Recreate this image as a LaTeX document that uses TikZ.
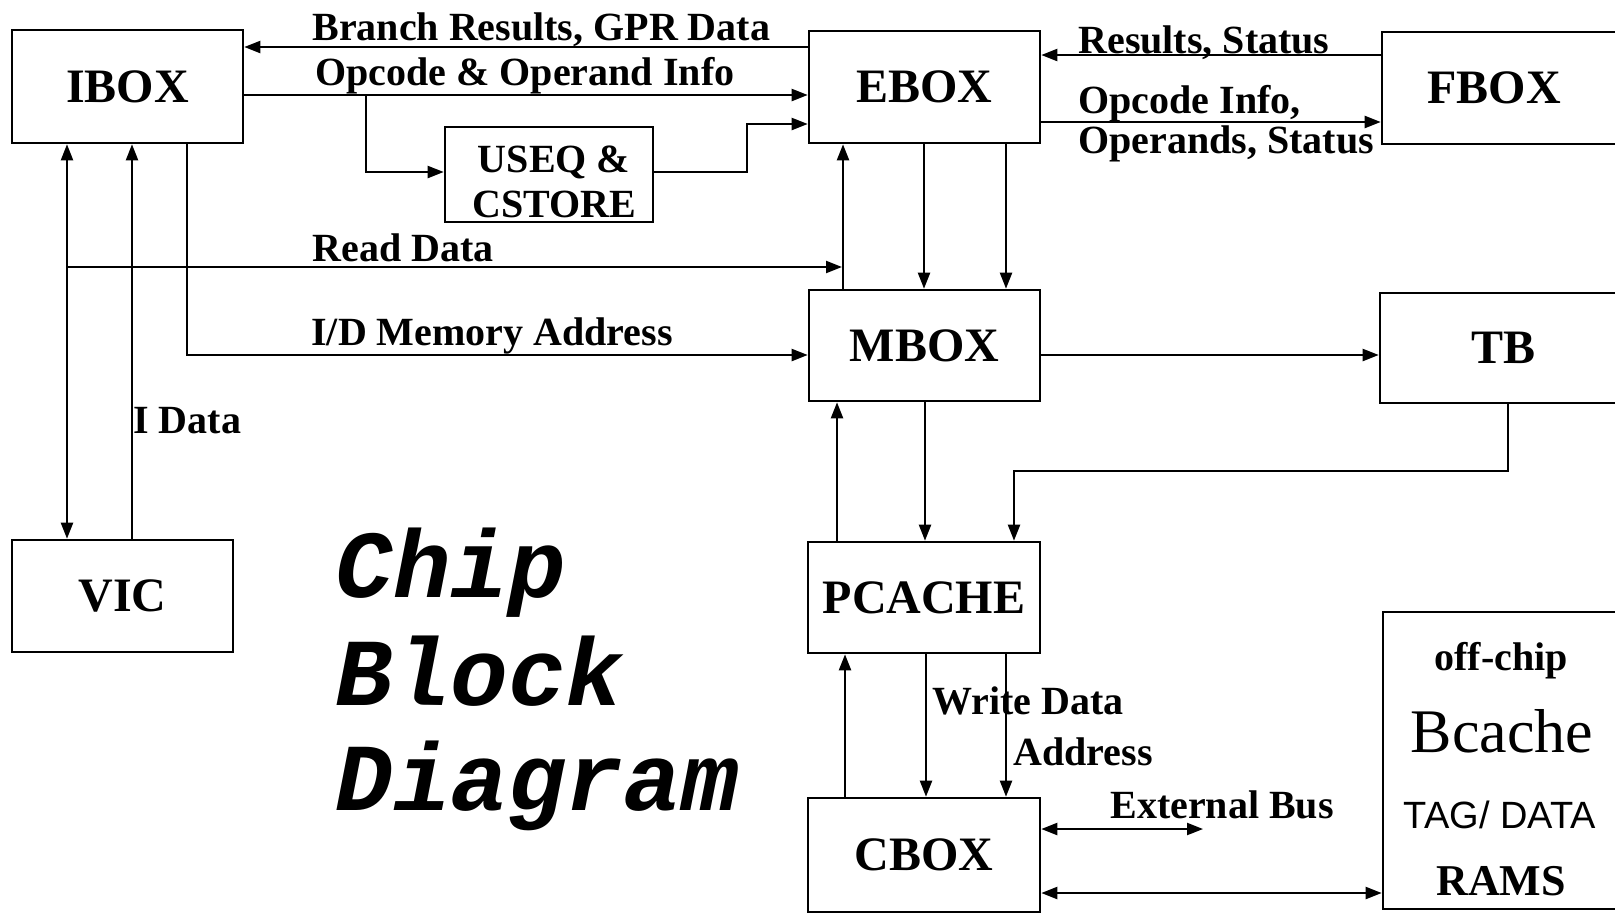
\documentclass[tikz,border=0pt]{standalone}
\usepackage{fontspec}
\setmainfont{Liberation Serif}
\setsansfont{Liberation Sans}
\setmonofont{Liberation Mono}
\usepackage{tikz}
\usetikzlibrary{arrows.meta, positioning, calc}
\tikzstyle{arrow} = [line width=1.1pt,-{Triangle[length=8pt,width=6pt]}]
\tikzstyle{darrow} = [line width=1.1pt,{Triangle[length=8pt,width=6pt]}-{Triangle[length=8pt,width=6pt]}]
\tikzstyle{box} = [draw, line width=1.3pt, rectangle, inner sep=0pt, font=\fontsize{24}{28}\selectfont\bfseries]
\tikzstyle{lbl} = [inner sep=0pt, anchor=base west, font=\fontsize{20}{23}\selectfont\bfseries]
\tikzstyle{title} = [inner sep=0pt, anchor=base west, font=\fontsize{48}{54}\selectfont\ttfamily\bfseries\itshape]

\begin{document}
\begin{tikzpicture}[x=0.5pt,y=-0.5pt]
    \clip (0,0) rectangle (1615,917);
    \fill[white] (0,0) rectangle (1615,917);

    % blocks
    \node[box, minimum width=115.5pt, minimum height=56.5pt] (ibox) at (127.5,86.5) {IBOX};
    \node[box, minimum width=115.5pt, minimum height=56pt] (ebox) at (924.5,87) {EBOX};
    \node[box, minimum width=104pt, minimum height=47.5pt] (useq) at (549,174.5) {};
    \node[align=center, inner sep=0pt, font=\fontsize{20}{22.5}\selectfont\bfseries] (useqtxt) at (554,182) {USEQ \&\\CSTORE};
    \node[box, minimum width=115.5pt, minimum height=55.5pt] (mbox) at (924.5,345.5) {MBOX};
    \node[box, minimum width=110.5pt, minimum height=56pt] (vic) at (122.5,596) {VIC};
    \node[box, minimum width=116pt, minimum height=55.5pt] (pcache) at (924,597.5) {PCACHE};
    \node[box, minimum width=116pt, minimum height=57pt] (cbox) at (924,855) {CBOX};

    % blocks running off the right edge
    \node[box, minimum width=159pt, minimum height=56pt] (fbox) at (1541,88) {};
    \node[font=\fontsize{24}{28}\selectfont\bfseries] (fboxtxt) at (1494,88) {FBOX};
    \node[box, minimum width=160pt, minimum height=55pt] (tb) at (1540,348) {};
    \node[font=\fontsize{24}{28}\selectfont\bfseries] (tbtxt) at (1503,348) {TB};
    \node[box, minimum width=158.5pt, minimum height=148.5pt] (bcache) at (1541.5,760.5) {};
    \node[inner sep=0pt, anchor=base, font=\fontsize{20}{23}\selectfont\bfseries] (offchip) at (1501,670) {off-chip};
    \node[inner sep=0pt, anchor=base, font=\fontsize{31}{34}\selectfont] (bcachetxt) at (1502,752) {Bcache};
    \node[inner sep=0pt, anchor=base, font=\fontsize{19}{22}\selectfont\sffamily] (tagdata) at (1500,828) {TAG/ DATA};
    \node[inner sep=0pt, anchor=base, font=\fontsize{22}{25}\selectfont\bfseries] (rams) at (1501,895) {RAMS};

    % title
    \node[title] (chip) at (335,597) {Chip};
    \node[title] (block) at (335,705) {Block};
    \node[title] (diagram) at (335,810) {Diagram};

    % IBOX, EBOX, FBOX
    \draw[arrow] (ebox.west |- 0,47) -- (ibox.east |- 0,47);
    \draw[arrow] (ibox.east |- 0,95) -- (ebox.west |- 0,95);
    \coordinate (split) at (366,95);
    \draw[arrow] (split) |- (useq.west |- 0,172);
    \draw[arrow] (useq.east |- 0,172) -- ++(93,0) |- (ebox.west |- 0,124);
    \draw[arrow] (fbox.west |- 0,55) -- (ebox.east |- 0,55);
    \draw[arrow] (ebox.east |- 0,122) -- (fbox.west |- 0,122);
    \node[lbl] (brlbl) at (312,40) {Branch Results, GPR Data};
    \node[lbl] (oplbl) at (315,85) {Opcode \& Operand Info};
    \node[lbl] (reslbl) at (1078,53) {Results, Status};
    \node[lbl] (fop1) at (1078,113) {Opcode Info,};
    \node[lbl] (fop2) at (1078,153) {Operands, Status};

    % IBOX, VIC, MBOX
    \draw[darrow] (ibox.south -| 67,0) -- (vic.north -| 67,0);
    \draw[arrow] (vic.north -| 132,0) -- (ibox.south -| 132,0);
    \draw[arrow] (ibox.south -| 187,0) |- (mbox.west |- 0,355);
    \coordinate (rd) at (67,267);
    \coordinate (rdin) at (842,267);
    \draw[arrow] (rd) -- (rdin);
    \node[lbl] (rdlbl) at (312,261) {Read Data};
    \node[lbl] (idlbl) at (311,345) {I/D Memory Address};
    \node[lbl] (ilbl) at (133,433) {I Data};

    % EBOX, MBOX, TB
    \draw[arrow] (mbox.north -| 843,0) -- (ebox.south -| 843,0);
    \draw[arrow] (ebox.south -| 924,0) -- (mbox.north -| 924,0);
    \draw[arrow] (ebox.south -| 1006,0) -- (mbox.north -| 1006,0);
    \draw[arrow] (mbox.east |- 0,355) -- (tb.west |- 0,355);

    % MBOX, PCACHE, CBOX
    \draw[arrow] (mbox.south -| 925,0) -- (pcache.north -| 925,0);
    \draw[arrow] (pcache.north -| 837,0) -- (mbox.south -| 837,0);
    \draw[arrow] (tb.south -| 1508,0) -- (1508,471) -| (pcache.north -| 1014,0);
    \draw[arrow] (cbox.north -| 845,0) -- (pcache.south -| 845,0);
    \draw[arrow] (pcache.south -| 926,0) -- (cbox.north -| 926,0);
    \draw[arrow] (pcache.south -| 1006,0) -- (cbox.north -| 1006,0);
    \node[lbl] (wdlbl) at (932,714) {Write Data};
    \node[lbl] (adlbl) at (1013,765) {Address};

    % external bus, Bcache
    \coordinate (extbus) at (1203,829);
    \draw[darrow] (cbox.east |- 0,829) -- (extbus);
    \draw[darrow] (cbox.east |- 0,893) -- (bcache.west |- 0,893);
    \node[lbl] (eblbl) at (1110,818) {External Bus};
\end{tikzpicture}
\end{document}
